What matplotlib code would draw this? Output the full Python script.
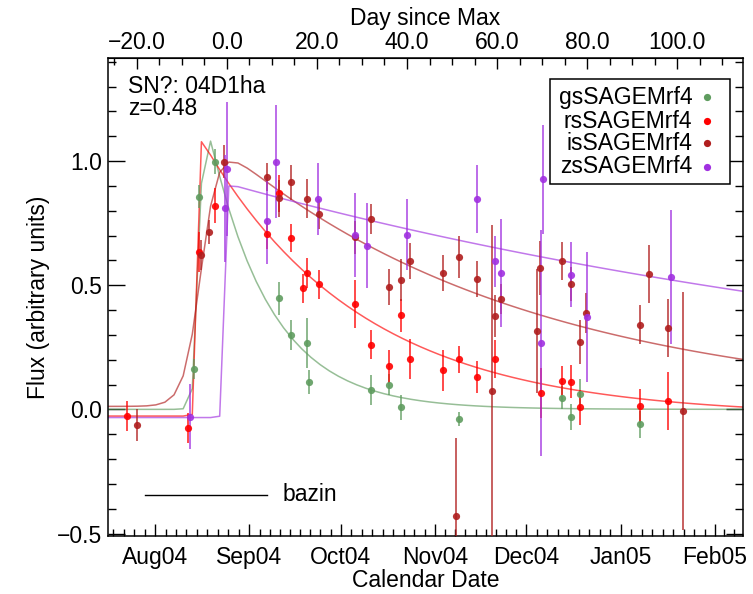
import numpy as np
import matplotlib
matplotlib.use("Agg")
import matplotlib.pyplot as plt
from matplotlib.ticker import FixedLocator, MultipleLocator, FuncFormatter
from matplotlib.patches import Rectangle

plt.rcParams['font.family'] = ['Liberation Sans', 'DejaVu Sans']
FS = 16.5

# ---- object info -------------------------------------------------------
sn_name = "04D1ha"
redshift = 0.48
mjd_max = 53241.6

# ---- calendar axis -----------------------------------------------------
month_mjd = [53187, 53218, 53249, 53279, 53310, 53340, 53371, 53402, 53430]
month_labels = ["", "Aug04", "Sep04", "Oct04", "Nov04", "Dec04", "Jan05", "Feb05", ""]
rest_ticks = [-20, 0, 20, 40, 60, 80, 100]

# ---- photometry (MJD, flux, error) ------------------------------------
band_names = ["gsSAGEMrf4", "rsSAGEMrf4", "isSAGEMrf4", "zsSAGEMrf4"]
band_colors = ["#5f9c5f", "#ff0000", "#b01e1e", "#a030e0"]

g_mjd = [53230.9, 53232.4, 53237.7, 53258.8, 53262.7, 53267.9, 53268.7, 53288.9,
         53294.8, 53298.7, 53317.8, 53351.7, 53354.7, 53357.7, 53377.5]
g_flux = [0.163, 0.857, 0.997, 0.447, 0.301, 0.268, 0.110, 0.079,
          0.099, 0.009, -0.039, 0.047, -0.031, 0.060, -0.060]
g_err = [0.039, 0.045, 0.05, 0.065, 0.06, 0.10, 0.05, 0.06,
         0.043, 0.05, 0.03, 0.047, 0.053, 0.062, 0.055]

r_mjd = [53208.7, 53228.9, 53232.6, 53237.8, 53254.7, 53258.9, 53262.7, 53266.7,
         53267.9, 53271.9, 53283.7, 53288.9, 53294.8, 53298.7, 53301.8, 53312.6,
         53317.8, 53323.8, 53329.7, 53344.8, 53351.7, 53354.7, 53357.7, 53377.5,
         53386.6]
r_flux = [-0.027, -0.074, 0.635, 0.820, 0.705, 0.870, 0.689, 0.487,
          0.549, 0.503, 0.424, 0.261, 0.174, 0.378, 0.203, 0.157,
          0.201, 0.130, 0.203, 0.067, 0.116, 0.111, 0.009, 0.013,
          0.033]
r_err = [0.062, 0.06, 0.08, 0.07, 0.06, 0.075, 0.057, 0.06,
         0.06, 0.058, 0.096, 0.059, 0.067, 0.065, 0.08, 0.084,
         0.055, 0.063, 0.078, 0.10, 0.06, 0.067, 0.07, 0.068,
         0.117]

i_mjd = [53212.0, 53233.0, 53235.8, 53240.7, 53254.7, 53258.9, 53262.7, 53267.9,
         53271.9, 53283.7, 53288.9, 53294.8, 53298.7, 53301.8, 53312.6, 53316.8,
         53317.8, 53323.8, 53328.7, 53329.7, 53331.7, 53343.4, 53344.5, 53351.7,
         53354.7, 53357.7, 53359.5, 53377.5, 53380.4, 53386.6, 53391.6]
i_flux = [-0.062, 0.622, 0.714, 0.997, 0.937, 0.850, 0.914, 0.849,
          0.787, 0.693, 0.767, 0.493, 0.522, 0.598, 0.548, -0.430,
          0.613, 0.526, 0.074, 0.377, 0.443, 0.315, 0.569, 0.598,
          0.505, 0.272, 0.388, 0.341, 0.545, 0.328, -0.007]
i_err = [0.064, 0.06, 0.05, 0.067, 0.057, 0.075, 0.07, 0.079,
         0.06, 0.067, 0.062, 0.073, 0.084, 0.072, 0.072, 0.316,
         0.085, 0.072, 0.67, 0.085, 0.06, 0.25, 0.11, 0.077,
         0.07, 0.089, 0.08, 0.078, 0.116, 0.117, 0.48]

z_mjd = [53229.5, 53241.0, 53241.8, 53254.7, 53257.7, 53271.7, 53283.8, 53287.6,
         53300.7, 53323.7, 53329.7, 53331.7, 53344.8, 53345.6, 53354.7, 53359.9,
         53387.6]
z_flux = [-0.029, 0.810, 0.968, 0.758, 0.997, 0.846, 0.704, 0.659,
          0.704, 0.847, 0.596, 0.549, 0.268, 0.926, 0.542, 0.372,
          0.533]
z_err = [0.13, 0.215, 0.27, 0.174, 0.228, 0.145, 0.169, 0.171,
         0.143, 0.137, 0.104, 0.217, 0.456, 0.22, 0.13, 0.26,
         0.268]

# ---- Bazin fit parameters: A, t0, t_rise, t_fall, B --------------------
g_fit = [1.315, 53232.5, 0.8, 20.0, 0.0]
r_fit = [1.145, 53231.8, 0.3, 52.0, -0.027]
i_fit = [1.12, 53233.3, 2.8, 100.0, 0.012]
z_fit = [0.945, 53240.8, 0.3, 275.0, -0.033]

# model is evaluated on a 3-day grid
model_start, model_stop, model_step = 53200.25, 53416.0, 3.0


def bazin(t, a, t0, trise, tfall, b):
    return a * np.exp(-(t - t0) / tfall) / (1.0 + np.exp(-(t - t0) / trise)) + b


fig = plt.figure(figsize=(7.53, 5.94), dpi=100)
ax = fig.add_axes([108 / 753, 1 - 536 / 594, 635 / 753, 478 / 594])

series = [(g_mjd, g_flux, g_err, g_fit),
          (r_mjd, r_flux, r_err, r_fit),
          (i_mjd, i_flux, i_err, i_fit),
          (z_mjd, z_flux, z_err, z_fit)]

tgrid = np.arange(model_start, model_stop, model_step)
for (mjd, flux, err, fit), col in zip(series, band_colors):
    ax.plot(tgrid, bazin(tgrid, *fit), color=col, lw=1.1, alpha=0.65, zorder=2)
for (mjd, flux, err, fit), col in zip(series, band_colors):
    ax.errorbar(mjd, flux, yerr=err, fmt='o', color=col, ms=5.2, mew=0,
                elinewidth=1.1, capsize=2.8, capthick=1.1, ecolor=col,
                alpha=0.9, zorder=3)

ax.set_xlim(53202.55, 53411.2)
ax.set_ylim(-0.51, 1.415)

# bottom calendar axis
ax.xaxis.set_major_locator(FixedLocator(month_mjd))
ax.set_xticklabels(month_labels)
minor = []
for a, b in zip(month_mjd[:-1], month_mjd[1:]):
    minor.extend(np.linspace(a, b, 10)[1:-1])
ax.xaxis.set_minor_locator(FixedLocator(minor))
ax.set_xlabel("Calendar Date", fontsize=FS, labelpad=0)

# y axis
ax.yaxis.set_major_locator(MultipleLocator(0.5))
ax.yaxis.set_minor_locator(MultipleLocator(0.1))
ax.yaxis.set_major_formatter(FuncFormatter(lambda v, p: f"{v:.1f}".replace("-", "\u2212")))
ax.set_ylabel("Flux (arbitrary units)", fontsize=FS, labelpad=5)

ax.tick_params(axis='both', which='both', direction='in', labelsize=FS, width=1.0)
ax.tick_params(axis='x', which='major', length=9, pad=7, top=False)
ax.tick_params(axis='x', which='minor', length=5, top=False)
ax.tick_params(axis='y', which='major', length=12, pad=4, right=True)
ax.tick_params(axis='y', which='minor', length=6, right=True)
for s in ax.spines.values():
    s.set_linewidth(1.1)

# top axis: rest-frame days since maximum
def to_rest(x):
    return (x - mjd_max) / (1.0 + redshift)


def from_rest(d):
    return d * (1.0 + redshift) + mjd_max


top = ax.secondary_xaxis('top', functions=(to_rest, from_rest))
top.xaxis.set_major_locator(FixedLocator(rest_ticks))
top.xaxis.set_minor_locator(MultipleLocator(5))
top.xaxis.set_major_formatter(FuncFormatter(lambda v, p: f"{v:.1f}".replace("-", "\u2212")))
top.tick_params(axis='x', which='both', direction='in', labelsize=FS, width=1.0)
top.tick_params(axis='x', which='major', length=8, pad=3)
top.tick_params(axis='x', which='minor', length=5)
top.set_xlabel("Day since Max", fontsize=FS, labelpad=4)

# object annotation
ax.text(0.0315, 0.927, f"SN?: {sn_name}", transform=ax.transAxes,
        fontsize=FS, va='baseline', ha='left')
ax.text(0.0315, 0.881, f"z={redshift:.2f}", transform=ax.transAxes,
        fontsize=FS, va='baseline', ha='left')

# model key
ax.plot([0.0583, 0.2499], [0.0858, 0.0858], transform=ax.transAxes,
        color='black', lw=1.0)
ax.text(0.275, 0.0858, "bazin", transform=ax.transAxes, fontsize=FS,
        va='center', ha='left')

# band key
ax.add_patch(Rectangle((0.696, 0.736), 0.284, 0.220, transform=ax.transAxes,
                       facecolor='white', edgecolor='black', lw=1.1, zorder=5))
row_y = [0.918, 0.868, 0.822, 0.772]
for name, col, yy in zip(band_names, band_colors, row_y):
    ax.text(0.920, yy, name, transform=ax.transAxes, fontsize=FS,
            ha='right', va='center', zorder=6)
    ax.plot([0.943], [yy], 'o', color=col, ms=5.2, mew=0,
            transform=ax.transAxes, zorder=6)

fig.savefig("out.png", dpi=100)
